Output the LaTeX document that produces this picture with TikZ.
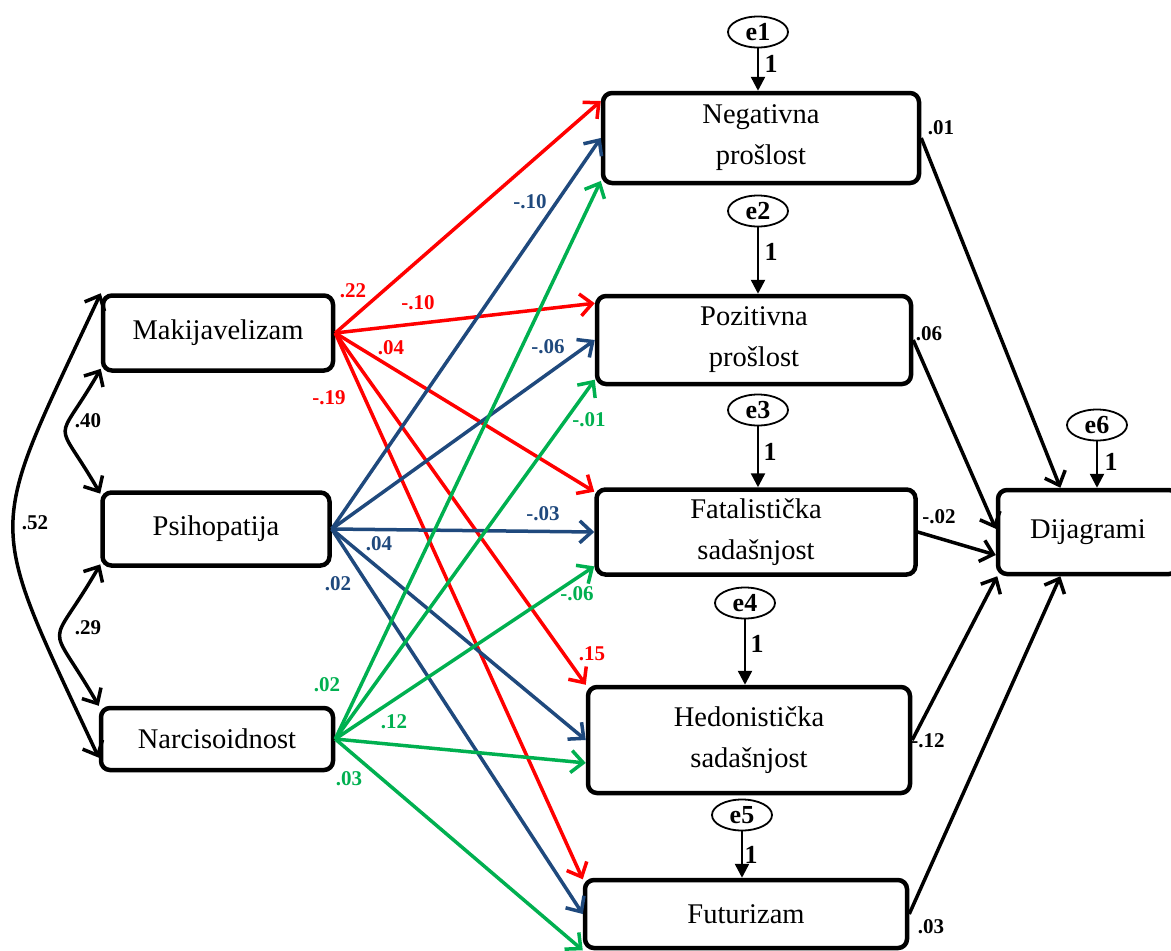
\documentclass[tikz,border=0pt]{standalone}
\definecolor{mak_red}{RGB}{255, 0, 0}
\definecolor{psi_blue}{RGB}{31, 73, 125}
\definecolor{nar_green}{RGB}{0, 176, 80}
\usepackage{fontspec}
\setmainfont{Liberation Serif}
\usepackage{tikz}
\usetikzlibrary{arrows.meta, positioning, shapes.geometric, calc}

\begin{document}
\begin{tikzpicture}[x=1pt, y=-1pt,
    var/.style={draw, line width=4.5pt, rounded corners=9pt, align=center,
                inner sep=0pt, font=\fontsize{28.5}{41}\selectfont},
    err/.style={draw, ellipse, line width=1.8pt, inner sep=0pt,
                minimum width=60pt, minimum height=31pt,
                font=\bfseries\fontsize{26}{26}\selectfont},
    coef/.style={inner sep=0pt, font=\bfseries\fontsize{21}{21}\selectfont},
    one/.style={inner sep=0pt, font=\bfseries\fontsize{26}{26}\selectfont},
    reg/.style={line width=3.5pt, -{Straight Barb[length=12pt,width=22pt]}},
    cov/.style={line width=3.5pt,
                {Straight Barb[length=12pt,width=22pt]}-{Straight Barb[length=12pt,width=22pt]}},
    fix/.style={line width=2.5pt, -{Triangle[length=14pt,width=14pt]}}]
        \useasboundingbox (0,0) rectangle (1171,951);

        % predictors
        \node[var, minimum width=230pt, minimum height=75pt] (mak) at (218,333) {Makijavelizam};
        \node[var, minimum width=227pt, minimum height=73pt] (psi) at (216,529) {Psihopatija};
        \node[var, minimum width=232pt, minimum height=62pt] (nar) at (217,739) {Narcisoidnost};

        % time perspectives
        \node[var, minimum width=316pt, minimum height=90pt] (neg) at (761,138) {Negativna\\prošlost};
        \node[var, minimum width=314pt, minimum height=88pt] (poz) at (754,340) {Pozitivna\\prošlost};
        \node[var, minimum width=319pt, minimum height=85pt] (fat) at (756,532) {Fatalistička\\sadašnjost};
        \node[var, minimum width=322pt, minimum height=106pt] (hed) at (749,740) {Hedonistička\\sadašnjost};
        \node[var, minimum width=322pt, minimum height=68pt] (fut) at (746,914) {Futurizam};
        \node[var, minimum width=180pt, minimum height=84pt] (dij) at (1088,532) {Dijagrami};

        % errors
        \node[err] (e1) at (758,32) {e1};
        \node[err] (e2) at (758,211) {e2};
        \node[err] (e3) at (758,410) {e3};
        \node[err] (e4) at (745,603) {e4};
        \node[err] (e5) at (742,815) {e5};
        \node[err] (e6) at (1097,425) {e6};
        \draw[fix] (e1) -- (e1 |- neg.north);
        \draw[fix] (e2) -- (e2 |- poz.north);
        \draw[fix] (e3) -- (e3 |- fat.north);
        \draw[fix] (e4) -- (e4 |- hed.north);
        \draw[fix] (e5) -- (e5 |- fut.north);
        \draw[fix] (e6) -- (e6 |- dij.north);
        \node[one] (o1) at (771,64) {1};
        \node[one] (o2) at (771,252) {1};
        \node[one] (o3) at (770,452) {1};
        \node[one] (o4) at (757,644) {1};
        \node[one] (o5) at (751,855) {1};
        \node[one] (o6) at (1111,462) {1};

        % covariances
        \draw[cov] (mak.197) to[out=240, in=120, looseness=1.9] (psi.163);
        \draw[cov] (psi.197) to[out=240, in=120, looseness=1.9] (nar.north west);
        \draw[cov] (mak.north west) to[out=245, in=115, looseness=1.5] (nar.189);
        \node[coef] (c40) at (88,421) {.40};
        \node[coef] (c29) at (88,628) {.29};
        \node[coef] (c52) at (35,523) {.52};

        % Makijavelizam
        \draw[reg, mak_red] (mak.east) -- (neg.167);
        \draw[reg, mak_red] (mak.east) -- (poz.167);
        \draw[reg, mak_red] (mak.east) -- (fat.166);
        \draw[reg, mak_red] (mak.east) -- (hed.north west);
        \draw[reg, mak_red] (mak.east) -- (fut.168);

        % Psihopatija
        \draw[reg, psi_blue] (psi.east) -- (neg.west);
        \draw[reg, psi_blue] (psi.east) -- (poz.west);
        \draw[reg, psi_blue] (psi.east) -- (fat.west);
        \draw[reg, psi_blue] (psi.east) -- (hed.west);
        \draw[reg, psi_blue] (psi.east) -- (fut.west);

        % Narcisoidnost
        \draw[reg, nar_green] (nar.east) -- (neg.195);
        \draw[reg, nar_green] (nar.east) -- (poz.194);
        \draw[reg, nar_green] (nar.east) -- (fat.192);
        \draw[reg, nar_green] (nar.east) -- (hed.188);
        \draw[reg, nar_green] (nar.east) -- (fut.south west);

        % Dijagrami
        \draw[reg] (neg.east) -- (dij.122);
        \draw[reg] (poz.east) -- (dij.178);
        \draw[reg] (fat.east) -- (dij.194);
        \draw[reg] (hed.east) -- (dij.206);
        \draw[reg] (fut.east) -- (dij.238);

        % coefficients
        \node[coef, mak_red] (m1) at (353,291) {.22};
        \node[coef, mak_red] (m2) at (418,303) {-.10};
        \node[coef, mak_red] (m3) at (391,348) {.04};
        \node[coef, mak_red] (m4) at (329,398) {-.19};
        \node[coef, mak_red] (m5) at (592,654) {.15};
        \node[coef, psi_blue] (p1) at (530,202) {-.10};
        \node[coef, psi_blue] (p2) at (548,347) {-.06};
        \node[coef, psi_blue] (p3) at (543,514) {-.03};
        \node[coef, psi_blue] (p4) at (379,544) {.04};
        \node[coef, psi_blue] (p5) at (338,584) {.02};
        \node[coef, nar_green] (n1) at (589,420) {-.01};
        \node[coef, nar_green] (n2) at (577,594) {-.06};
        \node[coef, nar_green] (n3) at (327,685) {.02};
        \node[coef, nar_green] (n4) at (394,722) {.12};
        \node[coef, nar_green] (n5) at (349,779) {.03};
        \node[coef] (d1) at (941,128) {.01};
        \node[coef] (d2) at (929,334) {.06};
        \node[coef] (d3) at (939,517) {-.02};
        \node[coef] (d4) at (928,741) {-.12};
        \node[coef] (d5) at (931,927) {.03};
      \end{tikzpicture}
\end{document}
